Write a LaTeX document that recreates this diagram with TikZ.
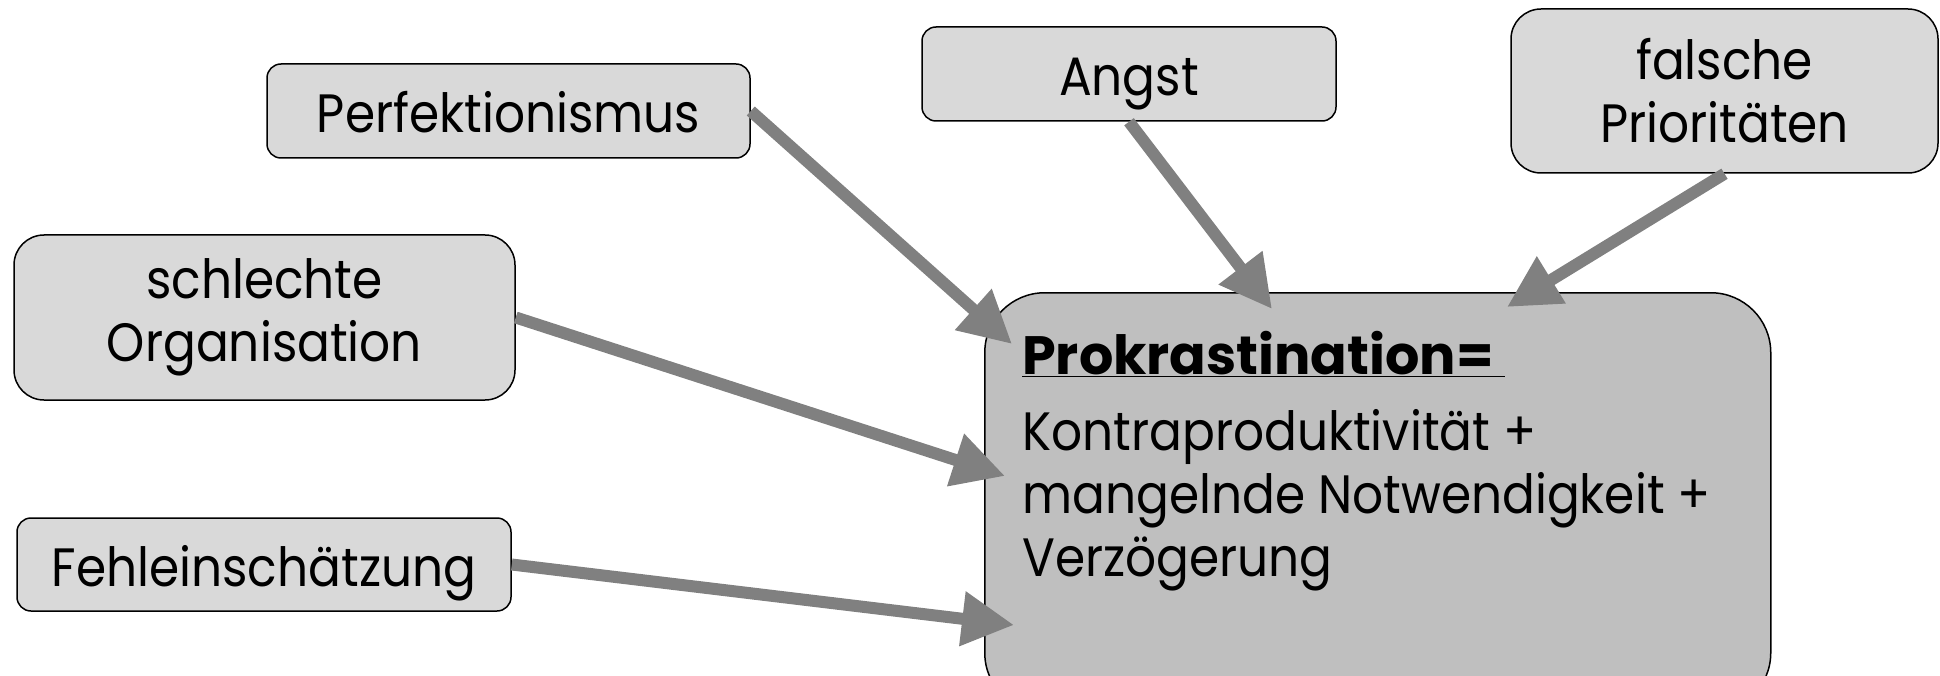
\documentclass[tikz,border=0pt]{standalone}
\usepackage{fontspec}
\setmainfont{Poppins}[FakeStretch=0.9]
\usetikzlibrary{arrows.meta}
\definecolor{boxgray}{HTML}{D9D9D9}
\definecolor{maingray}{HTML}{BFBFBF}
\definecolor{arrgray}{HTML}{808080}
\tikzset{
  cause/.style={draw=black, line width=1.5pt, fill=boxgray, rounded corners=14pt, align=center,
    font=\fontsize{54}{63}\selectfont, inner sep=0pt},
  oneline/.style={text height=46pt, text depth=2pt},
  bigarrow/.style={draw=arrgray, line width=12pt, -{Triangle[length=52pt,width=52pt]}, arrgray},
}
\begin{document}
\begin{tikzpicture}[x=1pt,y=-1pt]
\useasboundingbox (0,0) rectangle (1940,676);
\begin{scope}
\clip (0,0) rectangle (1940,676);
\node[draw=black, line width=1.5pt, fill=maingray, rounded corners=60pt, minimum width=786pt, minimum height=420pt, anchor=north west, inner sep=0pt] (main) at (984,292) {};
\end{scope}
\node[anchor=north west, align=left, inner sep=0pt, font=\fontsize{54}{63}\selectfont] (maintext) at (1022,331)
 {\underline{\textbf{\addfontfeature{FakeStretch=1.0}Prokrastination=\ }}\\[13pt]Kontraproduktivität +\\mangelnde Notwendigkeit +\\Verzögerung};
\node[cause, oneline, minimum width=483pt, minimum height=94pt] (perf) at (508.5,111) {Perfektionismus};
\node[cause, oneline, minimum width=414pt, minimum height=94pt] (angst) at (1129,74) {Angst};
\node[cause, minimum width=427pt, minimum height=164pt, rounded corners=30pt] (falsch) at (1724.5,91) {falsche\\Prioritäten};
\node[cause, minimum width=501pt, minimum height=165pt, rounded corners=30pt] (orga) at (264.5,317.5) {schlechte\\Organisation};
\node[cause, oneline, minimum width=494pt, minimum height=93pt] (fehl) at (264,564.5) {Fehleinschätzung};
\coordinate (tperf) at (1012,344);
\coordinate (torga) at (1005,476);
\coordinate (tfehl) at (1014,625);
\coordinate (tangst) at (1272,309);
\coordinate (tfalsch) at (1507,307);
\draw[bigarrow] (perf.east) -- (tperf);
\draw[bigarrow] (orga.east) -- (torga);
\draw[bigarrow] (fehl.east) -- (tfehl);
\draw[bigarrow] (angst.south) -- (tangst);
\draw[bigarrow] (falsch.south) -- (tfalsch);
\end{tikzpicture}
\end{document}
